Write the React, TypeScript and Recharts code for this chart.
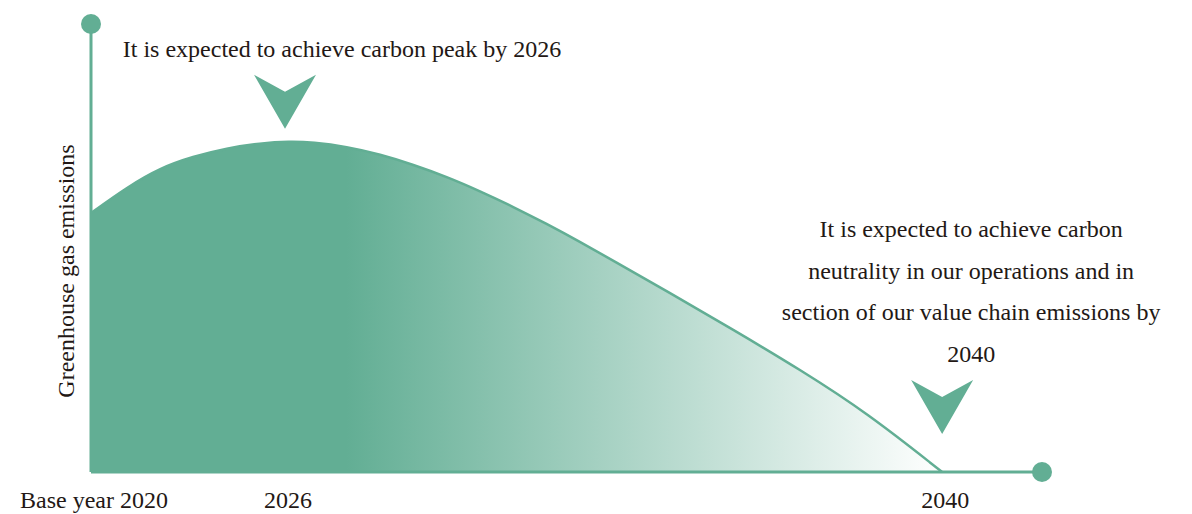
import { ComposedChart, Area, XAxis, YAxis, ReferenceDot, ReferenceLine } from 'recharts';

const GREEN = '#62ae94';
const INK = '#231815';
const FONT = '"Liberation Serif", "Times New Roman", serif';

// position along the timeline (0 = base year, 100 = end of the axis)
const timeline = [0, 3.8, 7.3, 10.7, 14.3, 17.8, 20.9, 23.3, 26.9, 30.4, 33.9, 37.4, 40.9, 44.4, 47.9, 51.4, 54.9, 60.6, 67.5, 74.6, 81.6, 89.5];
// relative greenhouse gas emissions
const emissions = [57.8, 63.6, 67.9, 70.4, 72.3, 73.4, 73.8, 73.6, 72.6, 70.9, 68.6, 65.9, 62.7, 59.2, 55.4, 51.4, 47.2, 40.3, 31.8, 22.8, 13.2, 0];

const tickPositions = [0, 20.4, 89.5];
const tickLabels = ['Base year 2020', '2026', '2040'];

const peakNote = ['It is expected to achieve carbon peak by 2026'];
const neutralNote = [
  'It is expected to achieve carbon',
  'neutrality in our operations and in',
  'section of our value chain emissions by',
  '2040',
];

const data = timeline.map((x, i) => ({ x, v: emissions[i] }));

// chevron pointing down, tip at (cx, cy), with the note above it
function Marker(props: any) {
  const { cx, cy, lines, dx } = props;
  if (cx == null || cy == null) return null;
  const top = cy - 54;
  const d = `M${cx - 31},${top} L${cx},${top + 17} L${cx + 31},${top} L${cx},${cy} Z`;
  const lineH = 41.5;
  const firstBase = top - 28 - (lines.length - 1) * lineH + 10;
  return (
    <g>
      <path d={d} fill={GREEN} />
      {lines.map((t: string, i: number) => (
        <text
          key={i}
          x={cx + dx}
          y={lines.length === 1 ? top - 18 : firstBase + i * lineH}
          textAnchor="middle"
          fontFamily={FONT}
          fontSize={24}
          fill={INK}
        >
          {t}
        </text>
      ))}
    </g>
  );
}

function Tick(props: any) {
  const { x, index } = props;
  return (
    <text x={x + 3} y={508} textAnchor="middle" fontFamily={FONT} fontSize={24} fill={INK}>
      {tickLabels[index]}
    </text>
  );
}

function YLabel() {
  return (
    <text
      x={74}
      y={271}
      transform="rotate(-90, 74, 271)"
      textAnchor="middle"
      fontFamily={FONT}
      fontSize={24}
      fill={INK}
    >
      Greenhouse gas emissions
    </text>
  );
}

export default function App() {
  return (
    <div style={{ position: 'absolute', left: 0, top: 0, width: 1192, height: 514, background: '#fff' }}>
      <ComposedChart width={1192} height={514} data={data} margin={{ top: 24, right: 150, bottom: 0, left: 91 }}>
        <defs>
          <linearGradient id="fade" x1="0" y1="0" x2="1" y2="0">
            <stop offset="0" stopColor={GREEN} />
            <stop offset="0.3" stopColor={GREEN} />
            <stop offset="1" stopColor="#ffffff" />
          </linearGradient>
        </defs>
        <XAxis
          type="number"
          dataKey="x"
          domain={[0, 100]}
          ticks={tickPositions}
          interval={0}
          height={42}
          axisLine={{ stroke: GREEN, strokeWidth: 3 }}
          tickLine={false}
          tick={<Tick />}
        />
        <YAxis type="number" domain={[0, 100]} hide />
        <Area
          type="basis"
          dataKey="v"
          stroke={GREEN}
          strokeWidth={2.5}
          fill="url(#fade)"
          fillOpacity={1}
          dot={false}
          activeDot={false}
          isAnimationActive={false}
        />
        <ReferenceLine x={0} stroke={GREEN} strokeWidth={3} label={<YLabel />} />
        <ReferenceDot x={0} y={100} r={10} fill={GREEN} stroke="none" />
        <ReferenceDot x={100} y={0} r={10} fill={GREEN} stroke="none" />
        <ReferenceDot
          x={tickPositions[1]}
          y={76.6}
          shape={(p: any) => <Marker {...p} lines={peakNote} dx={57} />}
        />
        <ReferenceDot
          x={tickPositions[2]}
          y={8.5}
          shape={(p: any) => <Marker {...p} lines={neutralNote} dx={29} />}
        />
      </ComposedChart>
    </div>
  );
}
